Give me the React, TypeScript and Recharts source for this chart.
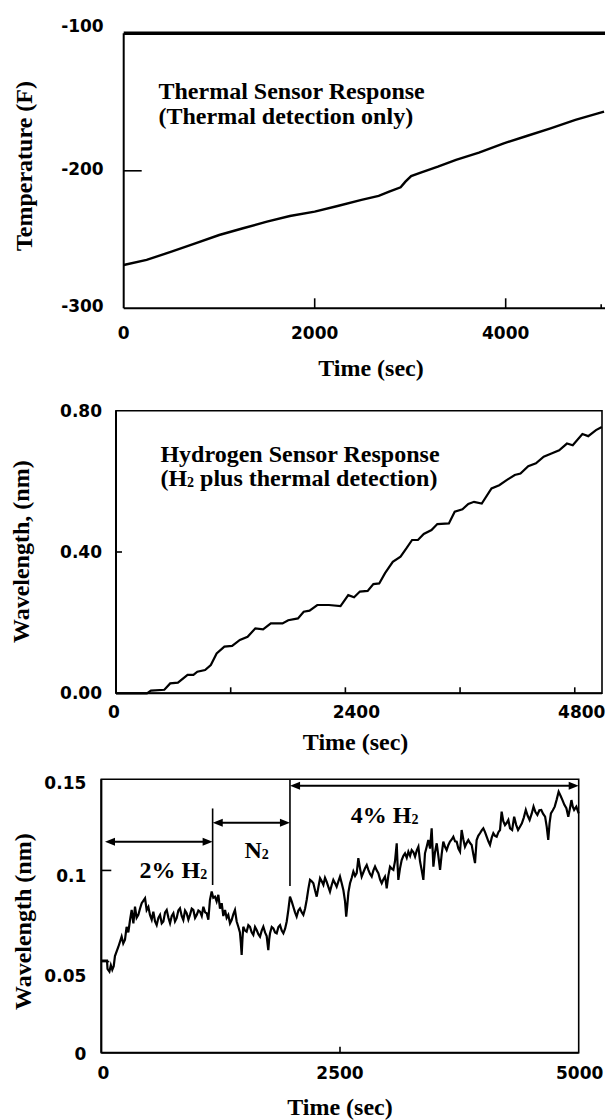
import React from 'react';
import { LineChart, Line, XAxis, YAxis, ReferenceLine, ReferenceArea, ReferenceDot } from 'recharts';

// ---------- Panel 1: thermal sensor ----------
const thermalTime = [0, 240, 500, 750, 1000, 1250, 1500, 1740, 2000, 2240, 2490, 2670, 2780, 2900, 2950, 3010, 3110, 3290, 3480, 3720, 3980, 4220, 4470, 4730, 5030];
const thermalTemp = [-268.5, -264.8, -258.8, -252.7, -246.7, -241.8, -237, -232.9, -229.7, -225.6, -221.2, -218.3, -215.2, -212, -207.9, -203.8, -201.3, -197, -192.1, -186.8, -180, -174.7, -169.1, -163, -157];
const thermalXTicks = [0, 2000, 4000, 5000];
const thermalXLabels = [0, 2000, 4000];
const thermalYTicks = [-300, -200, -100];

// ---------- Panel 2: hydrogen sensor ----------
const h2Time = [0, 324, 365, 506, 567, 648, 749, 810, 851, 932, 992, 1053, 1134, 1215, 1296, 1377, 1458, 1539, 1620, 1742, 1802, 1904, 1964, 2025, 2106, 2228, 2349, 2430, 2491, 2552, 2633, 2693, 2754, 2815, 2896, 2977, 3038, 3098, 3159, 3220, 3301, 3362, 3483, 3544, 3625, 3686, 3746, 3827, 3929, 4010, 4091, 4172, 4232, 4313, 4394, 4475, 4556, 4637, 4718, 4779, 4880, 4941, 5022, 5083];
const h2Shift = [0, 0, 0.0075, 0.01, 0.028, 0.03, 0.052, 0.052, 0.061, 0.066, 0.08, 0.113, 0.132, 0.134, 0.151, 0.16, 0.184, 0.181, 0.198, 0.198, 0.207, 0.212, 0.231, 0.234, 0.25, 0.25, 0.247, 0.278, 0.272, 0.288, 0.29, 0.309, 0.311, 0.34, 0.372, 0.387, 0.41, 0.434, 0.434, 0.451, 0.462, 0.479, 0.481, 0.514, 0.521, 0.536, 0.542, 0.537, 0.58, 0.589, 0.604, 0.618, 0.622, 0.643, 0.651, 0.67, 0.679, 0.688, 0.707, 0.702, 0.734, 0.728, 0.745, 0.754];
const h2XTicks = [0, 1200, 2400, 3600, 4800];
const h2XLabels = [0, 2400, 4800];
const h2YTicks = [0, 0.4, 0.8];

// ---------- Panel 3: 2% H2 / N2 / 4% H2 ----------
const mixTime = [0, 60, 65, 85, 100, 115, 130, 143, 178, 213, 230, 248, 265, 283, 301, 318, 336, 353, 370, 388, 405, 423, 458, 475, 493, 510, 528, 545, 563, 580, 598, 615, 633, 650, 668, 685, 703, 720, 738, 755, 772, 789, 807, 824, 842, 859, 877, 894, 912, 929, 947, 964, 982, 999, 1017, 1034, 1052, 1069, 1087, 1104, 1121, 1138, 1156, 1173, 1191, 1208, 1226, 1243, 1261, 1278, 1296, 1313, 1330, 1348, 1365, 1383, 1400, 1418, 1435, 1452, 1462, 1470, 1478, 1487, 1505, 1522, 1540, 1557, 1575, 1592, 1610, 1627, 1645, 1662, 1680, 1697, 1715, 1732, 1749, 1758, 1767, 1785, 1802, 1820, 1837, 1855, 1872, 1890, 1907, 1925, 1942, 1959, 1976, 1994, 2011, 2029, 2046, 2064, 2081, 2099, 2116, 2134, 2151, 2169, 2186, 2204, 2221, 2239, 2256, 2274, 2291, 2309, 2326, 2343, 2360, 2378, 2395, 2413, 2430, 2448, 2465, 2483, 2500, 2518, 2535, 2553, 2565, 2575, 2588, 2605, 2623, 2640, 2658, 2675, 2692, 2710, 2727, 2745, 2762, 2780, 2797, 2815, 2832, 2850, 2867, 2885, 2902, 2920, 2937, 2954, 2971, 2980, 2989, 3006, 3024, 3042, 3059, 3076, 3094, 3103, 3111, 3128, 3146, 3164, 3181, 3199, 3216, 3234, 3251, 3269, 3286, 3304, 3321, 3338, 3355, 3373, 3390, 3408, 3425, 3443, 3460, 3478, 3495, 3513, 3530, 3548, 3565, 3582, 3600, 3617, 3635, 3652, 3670, 3687, 3705, 3722, 3740, 3757, 3774, 3792, 3809, 3826, 3844, 3862, 3879, 3896, 3914, 3931, 3948, 3966, 3984, 4001, 4019, 4036, 4054, 4071, 4089, 4106, 4124, 4141, 4159, 4176, 4193, 4210, 4228, 4245, 4263, 4281, 4303, 4324, 4345, 4365, 4385, 4405, 4425, 4446, 4466, 4486, 4507, 4527, 4547, 4567, 4588, 4608, 4628, 4648, 4665, 4681, 4695, 4709, 4729, 4749, 4770, 4790, 4810, 4830, 4850, 4871, 4891, 4908, 4924, 4938, 4952, 4975, 5000];
const mixShift = [0.0505, 0.0505, 0.046, 0.0445, 0.048, 0.0455, 0.0475, 0.053, 0.058, 0.0637, 0.06, 0.062, 0.069, 0.066, 0.0728, 0.0783, 0.071, 0.0801, 0.074, 0.0756, 0.079, 0.082, 0.0847, 0.0783, 0.08, 0.0756, 0.073, 0.0774, 0.072, 0.07, 0.074, 0.0756, 0.071, 0.072, 0.077, 0.0783, 0.074, 0.071, 0.075, 0.0765, 0.072, 0.0738, 0.078, 0.0792, 0.075, 0.0728, 0.078, 0.0765, 0.073, 0.0756, 0.079, 0.0783, 0.074, 0.0756, 0.078, 0.0774, 0.075, 0.0801, 0.077, 0.0765, 0.073, 0.0838, 0.0884, 0.085, 0.0856, 0.083, 0.0866, 0.079, 0.082, 0.075, 0.0783, 0.074, 0.0756, 0.071, 0.0728, 0.076, 0.0783, 0.072, 0.0691, 0.066, 0.06, 0.0536, 0.062, 0.0691, 0.067, 0.0664, 0.07, 0.0691, 0.066, 0.0646, 0.069, 0.0673, 0.065, 0.0637, 0.067, 0.0691, 0.066, 0.064, 0.0563, 0.062, 0.0655, 0.069, 0.0682, 0.066, 0.0655, 0.069, 0.07, 0.067, 0.0655, 0.068, 0.072, 0.0783, 0.0856, 0.083, 0.0801, 0.077, 0.0747, 0.078, 0.0792, 0.077, 0.0756, 0.079, 0.0838, 0.09, 0.0948, 0.094, 0.093, 0.089, 0.0856, 0.091, 0.0957, 0.094, 0.0921, 0.096, 0.0939, 0.091, 0.0884, 0.092, 0.0948, 0.093, 0.0911, 0.094, 0.0966, 0.093, 0.0893, 0.083, 0.0747, 0.08, 0.088, 0.093, 0.096, 0.0994, 0.097, 0.0985, 0.1067, 0.101, 0.0966, 0.099, 0.1012, 0.103, 0.1003, 0.098, 0.0966, 0.1, 0.1021, 0.1, 0.0985, 0.095, 0.093, 0.095, 0.0966, 0.094, 0.0902, 0.097, 0.1021, 0.101, 0.1003, 0.105, 0.1149, 0.103, 0.0948, 0.101, 0.1057, 0.108, 0.1094, 0.107, 0.1103, 0.108, 0.1112, 0.11, 0.1076, 0.111, 0.113, 0.105, 0.1003, 0.0948, 0.1094, 0.113, 0.1167, 0.112, 0.1231, 0.1021, 0.11, 0.1149, 0.108, 0.1003, 0.109, 0.1158, 0.113, 0.1112, 0.114, 0.1158, 0.117, 0.1185, 0.116, 0.1158, 0.112, 0.1103, 0.1222, 0.117, 0.113, 0.115, 0.1167, 0.115, 0.114, 0.109, 0.104, 0.1167, 0.119, 0.1204, 0.122, 0.1231, 0.121, 0.1185, 0.116, 0.114, 0.118, 0.1204, 0.119, 0.1185, 0.121, 0.1222, 0.1323, 0.127, 0.1249, 0.126, 0.1277, 0.1231, 0.1222, 0.1295, 0.125, 0.1222, 0.124, 0.1258, 0.129, 0.1332, 0.13, 0.1277, 0.131, 0.135, 0.132, 0.1304, 0.133, 0.1332, 0.131, 0.1295, 0.124, 0.1167, 0.126, 0.1313, 0.133, 0.135, 0.139, 0.1432, 0.141, 0.1386, 0.136, 0.1341, 0.1295, 0.134, 0.1386, 0.135, 0.1332, 0.135, 0.1313];
const mixXTicks = [0, 2500, 5000];
const mixYTicks = [0, 0.05, 0.1, 0.15];

// Phase annotations (panel 3)
const boundaryTime = [1166, 1976];
const boundaryTop = [0.134, 0.15];
const boundaryBottom = [0.092, 0.0915];
const arrowStart = [39, 1167, 1977];
const arrowEnd = [1166, 1976, 5000];
const arrowLevel = [0.1158, 0.1262, 0.1465];
const phaseMain = ['2% H', 'N', '4% H'];
const phaseSub = ['2', '2', '2'];
const phaseTime = [754, 1627, 2967];
const phaseLevel = [0.0957, 0.1067, 0.1259];

const thermalData = thermalTime.map((t, i) => ({ t, v: thermalTemp[i] }));
const h2Data = h2Time.map((t, i) => ({ t, v: h2Shift[i] }));
const mixData = mixTime.map((t, i) => ({ t, v: mixShift[i] }));

const tickFont: React.CSSProperties = { fontFamily: '"DejaVu Sans", sans-serif', fontWeight: 700, fontSize: 17 };
const serif = '"Liberation Serif", "Times New Roman", serif';

type YCfg = { gap: number; len: (v: number) => number; dy: (v: number) => number; label: (v: number) => string };
type XCfg = { gap: number; len: (v: number) => number; dx: (v: number) => number; show: (v: number) => boolean };

const makeYTick = (cfg: YCfg) => (props: any) => {
  const { x, y, payload } = props;
  const v = payload.value as number;
  const len = cfg.len(v);
  return (
    <g>
      {len > 0 && <line x1={x} x2={x + len} y1={y} y2={y} stroke="#000" strokeWidth={1.6} />}
      <text x={x - cfg.gap} y={y + cfg.dy(v)} textAnchor="end" dominantBaseline="central" fill="#000" style={tickFont}>
        {cfg.label(v)}
      </text>
    </g>
  );
};

const makeXTick = (cfg: XCfg) => (props: any) => {
  const { x, y, payload } = props;
  const v = payload.value as number;
  const len = cfg.len(v);
  return (
    <g>
      {len > 0 && <line x1={x} x2={x} y1={y} y2={y - len} stroke="#000" strokeWidth={1.6} />}
      {cfg.show(v) && (
        <text x={x + cfg.dx(v)} y={y + cfg.gap} textAnchor="middle" dominantBaseline="central" fill="#000" style={tickFont}>
          {String(v)}
        </text>
      )}
    </g>
  );
};

const DoubleArrow = (p: any) => {
  const { x1, y1, x2, y2 } = p;
  const hl = 10;
  const hw = 4;
  return (
    <g>
      <line x1={x1 + 4} y1={y1} x2={x2 - 4} y2={y2} stroke="#000" strokeWidth={2} />
      <polygon points={`${x1},${y1} ${x1 + hl},${y1 - hw} ${x1 + hl},${y1 + hw}`} fill="#000" />
      <polygon points={`${x2},${y2} ${x2 - hl},${y2 - hw} ${x2 - hl},${y2 + hw}`} fill="#000" />
    </g>
  );
};

const phaseText = (i: number) => (p: any) => (
  <text x={p.cx} y={p.cy} textAnchor="middle" fill="#000" style={{ fontFamily: serif, fontWeight: 700, fontSize: 24 }}>
    <tspan>{phaseMain[i]}</tspan>
    <tspan fontSize={14} dy={1}>{phaseSub[i]}</tspan>
  </text>
);

export default function App() {
  const serifStyle: React.CSSProperties = { fontFamily: serif, fontWeight: 700, fontSize: 24 };
  return (
    <div style={{ position: 'absolute', left: 0, top: 0, width: 606, height: 1120, background: '#fff' }}>
      {/* Panel 1 */}
      <div style={{ position: 'absolute', left: 0, top: 0 }}>
        <LineChart width={606} height={360} data={thermalData} margin={{ top: 33.3, right: 1, bottom: 21.7, left: 63.7 }}>
          <XAxis
            type="number" dataKey="t" domain={[0, 5040]} ticks={thermalXTicks} interval={0} height={30}
            tickSize={0} tickMargin={0} axisLine={{ stroke: '#000', strokeWidth: 2 }} tickLine={false}
            tick={makeXTick({ gap: 25, len: (v) => (v === 0 ? 0 : v === 5000 ? 4 : 10), dx: () => 0, show: (v) => thermalXLabels.includes(v) })}
          />
          <YAxis
            type="number" domain={[-300, -100]} ticks={thermalYTicks} interval={0} width={60}
            tickSize={0} tickMargin={0} axisLine={{ stroke: '#000', strokeWidth: 2 }} tickLine={false}
            tick={makeYTick({ gap: 20, len: (v) => (v === -200 ? 18 : 0), dy: (v) => (v === -100 ? -7 : -2), label: (v) => String(v) })}
          />
          <ReferenceLine y={-100} stroke="#000" strokeWidth={3.5} />
          <Line type="linear" dataKey="v" stroke="#000" strokeWidth={2.4} dot={false} isAnimationActive={false} />
        </LineChart>
      </div>

      {/* Panel 2 */}
      <div style={{ position: 'absolute', left: 0, top: 360 }}>
        <LineChart width={606} height={370} data={h2Data} margin={{ top: 50.7, right: 4, bottom: 6.7, left: 56 }}>
          <XAxis
            type="number" dataKey="t" domain={[0, 5085]} ticks={h2XTicks} interval={0} height={30}
            tickSize={0} tickMargin={0} axisLine={{ stroke: '#000', strokeWidth: 2 }} tickLine={false}
            tick={makeXTick({ gap: 18.4, len: (v) => (v === 0 ? 0 : 6), dx: (v) => (v === 0 ? -2 : v === 4800 ? 7 : 11), show: (v) => h2XLabels.includes(v) })}
          />
          <YAxis
            type="number" domain={[0, 0.8]} ticks={h2YTicks} interval={0} width={60}
            tickSize={0} tickMargin={0} axisLine={{ stroke: '#000', strokeWidth: 2 }} tickLine={false}
            tick={makeYTick({ gap: 14, len: (v) => (v === 0.4 ? 6 : 0), dy: () => 0, label: (v) => v.toFixed(2) })}
          />
          <ReferenceArea x1={0} x2={5085} y1={0} y2={0.8} fill="none" stroke="#000" strokeWidth={1.6} ifOverflow="visible" />
          <Line type="linear" dataKey="v" stroke="#000" strokeWidth={2.2} dot={false} isAnimationActive={false} />
        </LineChart>
      </div>

      {/* Panel 3 */}
      <div style={{ position: 'absolute', left: 0, top: 730 }}>
        <LineChart width={606} height={390} data={mixData} margin={{ top: 49.3, right: 27.3, bottom: 37.3, left: 41.3 }}>
          <XAxis
            type="number" dataKey="t" domain={[0, 5000]} ticks={mixXTicks} interval={0} height={30}
            tickSize={0} tickMargin={0} axisLine={{ stroke: '#000', strokeWidth: 2 }} tickLine={false}
            tick={makeXTick({ gap: 20.6, len: (v) => (v === 2500 ? 6 : 0), dx: (v) => (v === 0 ? 2 : v === 5000 ? 1 : 0), show: () => true })}
          />
          <YAxis
            type="number" domain={[0, 0.15]} ticks={mixYTicks} interval={0} width={60}
            tickSize={0} tickMargin={0} axisLine={{ stroke: '#000', strokeWidth: 2 }} tickLine={false}
            tick={makeYTick({
              gap: 15,
              len: (v) => (v === 0.1 ? 10 : v === 0.05 ? 8 : 0),
              dy: (v) => (v === 0.15 ? 4 : v === 0.1 ? 6 : v === 0.05 ? 14 : 1),
              label: (v) => String(v),
            })}
          />
          <ReferenceArea x1={0} x2={5000} y1={0} y2={0.15} fill="none" stroke="#000" strokeWidth={1.6} ifOverflow="visible" />
          {boundaryTime.map((t, i) => (
            <ReferenceLine key={`b${i}`} segment={[{ x: t, y: boundaryBottom[i] }, { x: t, y: boundaryTop[i] }]} stroke="#000" strokeWidth={1.6} />
          ))}
          {arrowStart.map((s, i) => (
            <ReferenceLine key={`a${i}`} segment={[{ x: s, y: arrowLevel[i] }, { x: arrowEnd[i], y: arrowLevel[i] }]} shape={DoubleArrow} />
          ))}
          {phaseTime.map((t, i) => (
            <ReferenceDot key={`p${i}`} x={t} y={phaseLevel[i]} r={0} shape={phaseText(i)} />
          ))}
          <Line type="linear" dataKey="v" stroke="#000" strokeWidth={2.2} dot={false} isAnimationActive={false} />
        </LineChart>
      </div>

      {/* Titles and axis labels */}
      <svg width={606} height={1120} style={{ position: 'absolute', left: 0, top: 0, pointerEvents: 'none' }}>
        <g fill="#000" style={serifStyle}>
          <text x={158.5} y={98.5}>Thermal Sensor Response</text>
          <text x={158.5} y={123.5}>(Thermal detection only)</text>
          <text x={371} y={376} textAnchor="middle">Time (sec)</text>
          <text transform="translate(31.7,166) rotate(-90)" textAnchor="middle">Temperature (F)</text>

          <text x={160.4} y={461.7}>Hydrogen Sensor Response</text>
          <text x={160.4} y={486}>
            <tspan>(H</tspan>
            <tspan fontSize={14} dy={1}>2</tspan>
            <tspan dy={-1}> plus thermal detection)</tspan>
          </text>
          <text x={355.6} y={750} textAnchor="middle">Time (sec)</text>
          <text transform="translate(29,551.7) rotate(-90)" textAnchor="middle">Wavelength, (nm)</text>

          <text x={340} y={1115} textAnchor="middle">Time (sec)</text>
          <text transform="translate(31,921.7) rotate(-90)" textAnchor="middle">Wavelength (nm)</text>
        </g>
      </svg>
    </div>
  );
}
